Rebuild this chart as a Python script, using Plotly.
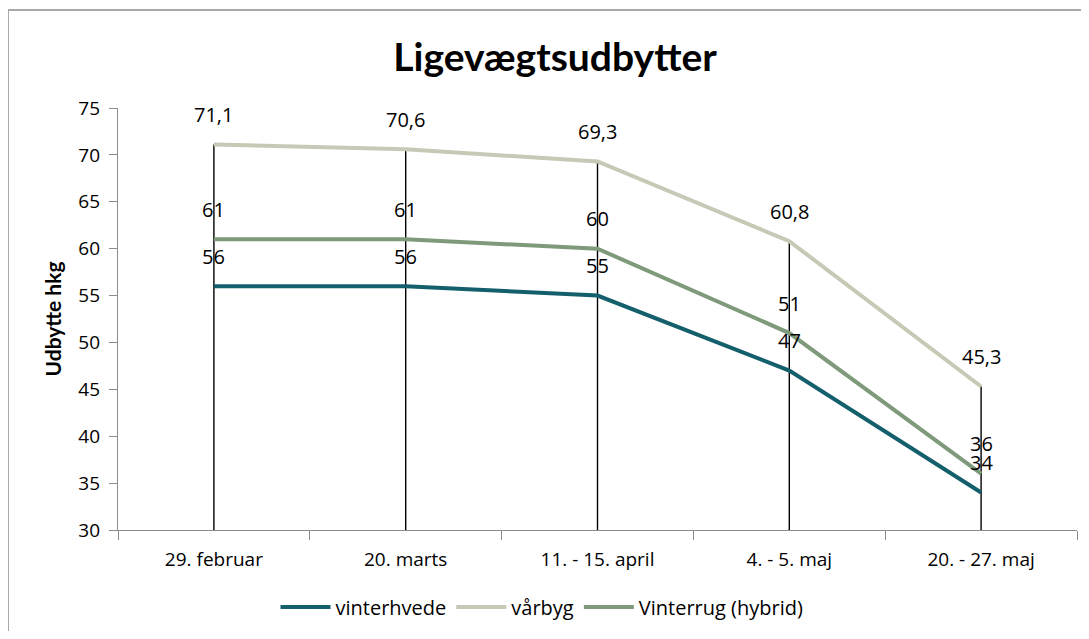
import plotly.graph_objects as go

categories = ["29. februar", "20. marts", "11. - 15. april", "4. - 5. maj", "20. - 27. maj"]
vinterhvede = [56, 56, 55, 47, 34]
vaarbyg = [71.1, 70.6, 69.3, 60.8, 45.3]
vinterrug = [61, 61, 60, 51, 36]
y_ticks = [30, 35, 40, 45, 50, 55, 60, 65, 70, 75]

FONT = "Open Sans"
TFONT = "Lato"
# page body has an 8px margin, so the figure starts at (8, 8)
W, H = 1073, 623
ML, MR, MT, MB = 110, 4, 100, 101

fig = go.Figure()

# drop lines (high-low lines) from axis base to highest value
dx, dy = [], []
for c, a, b, r in zip(categories, vinterhvede, vaarbyg, vinterrug):
    dx += [c, c, None]
    dy += [y_ticks[0], max(a, b, r), None]
fig.add_trace(go.Scatter(x=dx, y=dy, mode="lines", line=dict(color="black", width=1.4),
                         showlegend=False, hoverinfo="skip"))

series = [
    ("vinterhvede", vinterhvede, "#135f6c"),
    ("vårbyg", vaarbyg, "#c6c9b5"),
    ("Vinterrug (hybrid)", vinterrug, "#7e9a7a"),
]
for name, vals, col in series:
    fig.add_trace(go.Scatter(x=categories, y=vals, mode="lines", name=name,
                             line=dict(color=col, width=4)))

annotations = []
for name, vals, col in series:
    for c, v in zip(categories, vals):
        annotations.append(dict(x=c, y=v, text=f"{v:g}".replace(".", ","), showarrow=False,
                                yshift=30, font=dict(family=FONT, size=20, color="black")))

pw = W - ML - MR
ph = H - MT - MB
def px_x(p):
    return (p - ML) / pw
def px_y(p):
    return (H - MB - p) / ph

shapes = [
    dict(type="line", xref="paper", yref="paper", x0=px_x(0), x1=px_x(0), y0=px_y(2), y1=px_y(700),
         line=dict(color="#a8a8a8", width=2)),
    dict(type="line", xref="paper", yref="paper", x0=px_x(0), x1=px_x(1200), y0=px_y(2), y1=px_y(2),
         line=dict(color="#a8a8a8", width=2)),
]

fig.update_layout(
    width=W, height=H,
    margin=dict(l=ML, r=MR, t=MT, b=MB),
    paper_bgcolor="white", plot_bgcolor="white",
    font=dict(family=FONT, size=18, color="black"),
    title=dict(text="<b>Ligevægtsudbytter</b>", x=px_x(547), xref="paper", xanchor="center",
               y=1 - 49 / H, yanchor="middle",
               font=dict(family=TFONT, size=39, color="black")),
    xaxis=dict(type="category", range=[-0.5, 4.5], showgrid=False, showline=True,
               linecolor="#8c8c8c", linewidth=1.3, ticks="outside", tickson="boundaries",
               ticklen=9, tickcolor="#8c8c8c", tickfont=dict(family=FONT, size=19), zeroline=False,
               ticklabelstandoff=12),
    yaxis=dict(range=[30, 75], tickvals=y_ticks, showgrid=False, showline=True,
               linecolor="#8c8c8c", linewidth=1.3, ticks="outside", ticklen=8, tickcolor="#8c8c8c",
               tickfont=dict(family=FONT, size=19), zeroline=False, ticklabelstandoff=5,
               title=dict(text="<b>Udbytte hkg</b>", font=dict(family=TFONT, size=21), standoff=10)),
    legend=dict(orientation="h", x=px_x(534), xanchor="center", y=px_y(599), yanchor="middle",
                font=dict(family=FONT, size=20), itemwidth=50, traceorder="normal"),
    annotations=annotations,
    shapes=shapes,
    showlegend=True,
)

fig.write_html("out.html")
